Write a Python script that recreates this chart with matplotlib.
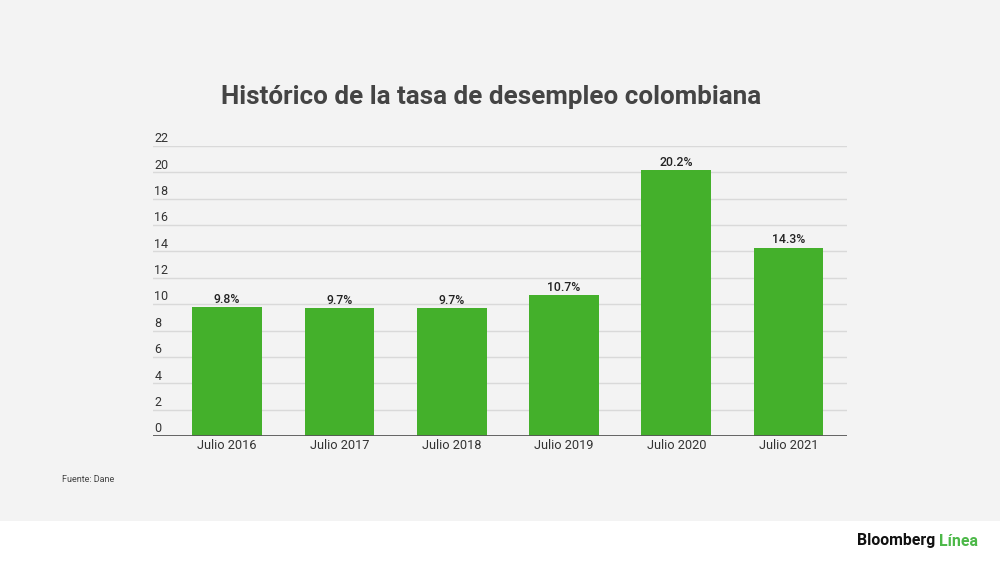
import matplotlib
matplotlib.use("Agg")
import matplotlib.pyplot as plt
import matplotlib.transforms as mtransforms
from matplotlib.patches import Rectangle

plt.rcParams['font.family'] = ['Roboto', 'DejaVu Sans']

# datos
categorias = ["Julio 2016", "Julio 2017", "Julio 2018", "Julio 2019", "Julio 2020", "Julio 2021"]
tasas = [9.8, 9.7, 9.7, 10.7, 20.2, 14.3]
etiquetas = ["9.8%", "9.7%", "9.7%", "10.7%", "20.2%", "14.3%"]
yticks = list(range(0, 23, 2))

BG = "#f3f3f3"
VERDE = "#44b02b"

fig = plt.figure(figsize=(10, 5.62), dpi=100)
fig.patch.set_facecolor(BG)
# franja blanca inferior (logo)
fig.patches.append(Rectangle((0, 0), 1, 41 / 562, transform=fig.transFigure,
                             facecolor="white", edgecolor="none", zorder=-1))

ax = fig.add_axes([0.153, 1 - 436 / 562, 0.694, 290 / 562])
ax.set_facecolor("none")

x = range(len(categorias))
ax.bar(x, tasas, width=0.62, color=VERDE, zorder=3)

ax.set_xlim(-0.66, 5.52)
ax.set_ylim(0, 22)

for v in yticks[1:]:
    ax.axhline(v, color="#d9d9d9", linewidth=1, zorder=1)
ax.axhline(0, color="#555555", linewidth=2, zorder=4)

# etiquetas del eje y encima de las lineas
trans = mtransforms.blended_transform_factory(ax.transAxes, ax.transData)
off = mtransforms.offset_copy(trans, fig=fig, x=1, y=0.5, units="points")
for v in yticks:
    ax.text(0, v, str(v), transform=off, ha="left", va="bottom",
            fontsize=9, color="#333333")

for i, (v, lab) in enumerate(zip(tasas, etiquetas)):
    ax.annotate(lab, (i, v), xytext=(0, 0.8), textcoords="offset points",
                ha="center", va="bottom", fontsize=8.8, fontweight="medium",
                color="#222222", zorder=5)

ax.set_xticks(list(x))
ax.set_xticklabels(categorias, fontsize=9.2, color="#333333")
ax.tick_params(axis="x", length=0, pad=2.5)
ax.set_yticks([])
for s in ax.spines.values():
    s.set_visible(False)

fig.text(0.491, 1 - 97 / 562, "Histórico de la tasa de desempleo colombiana",
         ha="center", va="center", fontsize=18.7, fontweight="bold", color="#444444")
fig.text(0.062, 1 - 479 / 562, "Fuente: Dane", ha="left", va="center",
         fontsize=6.5, color="#444444")

t1 = fig.text(0.857, 1 - 541 / 562, "Bloomberg", ha="left", va="center",
              fontsize=11.4, fontweight="bold", color="#111111")
fig.canvas.draw()
bb = t1.get_window_extent()
fig.text(bb.x1 / fig.bbox.width + 0.004, 1 - 541 / 562, "Línea", ha="left", va="center",
         fontsize=11.4, fontweight="bold", color="#4cb848")

fig.savefig("out.png", dpi=100, facecolor=fig.get_facecolor())
